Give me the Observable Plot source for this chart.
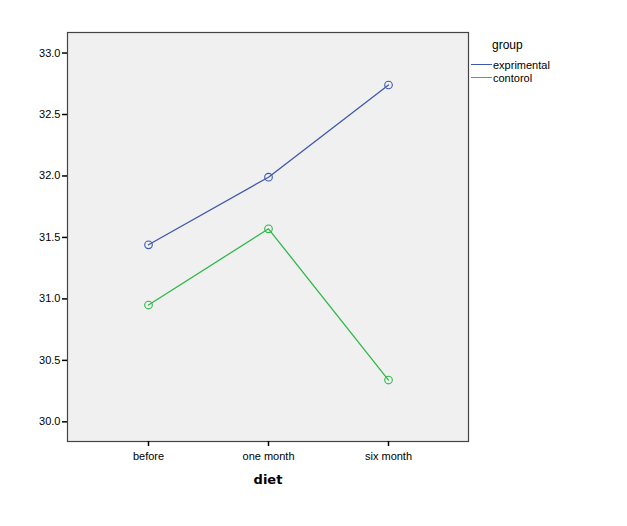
<!DOCTYPE html>
<html><head><meta charset="utf-8">
<script src="https://cdn.jsdelivr.net/npm/d3@7"></script>
<script src="https://cdn.jsdelivr.net/npm/@observablehq/plot@0.6"></script>
<style>
body{margin:0;background:#fff;}
#wrap{position:relative;width:627px;height:526px;}
#legend{position:absolute;left:471px;top:38px;font-family:"Liberation Sans",Arial,sans-serif;font-size:11px;color:#000;}
#legend .t{font-size:12px;margin-left:21px;margin-bottom:6px;}
#legend .row{display:flex;align-items:center;height:13px;}
#legend .sw{width:21px;height:0;border-top:1.5px solid;margin-right:1px;}
</style></head>
<body><div id="wrap"><div id="legend"></div></div>
<script>
const categories = ["before", "one month", "six month"];
const groups = ["exprimental", "contorol"];
const exprimental = [31.44, 31.99, 32.74];
const contorol = [30.95, 31.57, 30.34];
const yTicks = [30.0, 30.5, 31.0, 31.5, 32.0, 32.5, 33.0];
const colors = ["#3e58ac", "#2eb848"];

const data = [];
categories.forEach((c, i) => {
  data.push({diet: c, group: groups[0], value: exprimental[i]});
  data.push({diet: c, group: groups[1], value: contorol[i]});
});

const chart = Plot.plot({
  width: 627, height: 526,
  marginLeft: 67, marginRight: 159, marginTop: 32, marginBottom: 85,
  style: {fontFamily: '"Liberation Sans", Arial, sans-serif', fontSize: "11px", background: "#fff", color: "#000"},
  x: {type: "point", domain: categories, padding: 0.665, label: null},
  y: {domain: [29.84, 33.167], label: null},
  color: {domain: groups, range: colors},
  marks: [
    Plot.frame({fill: "#f0f0f0", stroke: "none"}),
    Plot.lineY(data, {x: "diet", y: "value", stroke: "group", strokeWidth: 1.3}),
    Plot.dot(data, {x: "diet", y: "value", stroke: "group", r: 3.8, strokeWidth: 1.1}),
    Plot.frame({stroke: "#444", strokeWidth: 1.2}),
    Plot.axisY({ticks: yTicks, tickFormat: d => d.toFixed(1), tickSize: 5, tickPadding: 2, stroke: "#000", strokeWidth: 1.5, label: null}),
    Plot.axisX({tickSize: 5, tickPadding: 6, stroke: "#000", strokeWidth: 1.5, label: null}),
    Plot.axisX({ticks: [], label: "diet", labelAnchor: "center", labelArrow: "none", labelOffset: 42,
      fontFamily: '"DejaVu Sans", sans-serif', fontSize: 13, fontWeight: "bold"})
  ]
});
document.getElementById("wrap").prepend(chart);

const leg = document.getElementById("legend");
const t = document.createElement("div"); t.className = "t"; t.textContent = "group"; leg.appendChild(t);
groups.forEach((g, i) => {
  const r = document.createElement("div"); r.className = "row";
  const s = document.createElement("div"); s.className = "sw"; s.style.borderColor = colors[i];
  const l = document.createElement("span"); l.textContent = g;
  r.appendChild(s); r.appendChild(l); leg.appendChild(r);
});
</script></body></html>
